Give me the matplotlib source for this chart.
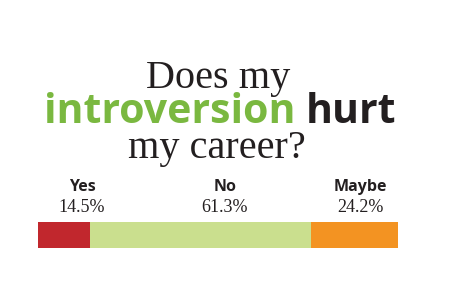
import matplotlib.pyplot as plt

# data
answers = ['Yes', 'No', 'Maybe']
shares = [14.5, 61.3, 24.2]
colors = ['#c1272d', '#cadf8e', '#f39322']
label_x = [82, 225, 360]   # label centres, px

W, H = 450, 285
fig = plt.figure(figsize=(W / 100, H / 100), dpi=100)
fig.patch.set_facecolor('white')

serif = ['Liberation Serif', 'DejaVu Serif']
sans = ['Open Sans', 'DejaVu Sans']

# title
fig.text(218 / W, 1 - 88 / H, 'Does my', family=serif, fontsize=29,
         ha='center', va='baseline', color='#231f20')
t1 = fig.text(44 / W, 1 - 123 / H, 'introversion ', family=sans, fontsize=29.5,
              fontweight='bold', ha='left', va='baseline', color='#7ab840')
fig.canvas.draw()
bb = t1.get_window_extent()
fig.text(bb.x1 / W, 1 - 123 / H, 'hurt', family=sans, fontsize=29.5,
         fontweight='bold', ha='left', va='baseline', color='#231f20')
fig.text(217 / W, 1 - 158 / H, 'my career?', family=serif, fontsize=29,
         ha='center', va='baseline', color='#231f20')

# labels
for a, s, x in zip(answers, shares, label_x):
    fig.text(x / W, 1 - 191 / H, a, family=sans, fontsize=11.5,
             fontweight='bold', ha='center', va='baseline', color='#231f20')
    fig.text(x / W, 1 - 212 / H, '{:.1f}%'.format(s), family=serif,
             fontsize=13, ha='center', va='baseline', color='#231f20')

# stacked bar
ax = fig.add_axes([38 / W, 1 - 248 / H, 360 / W, 26 / H])
left = 0
for s, c in zip(shares, colors):
    ax.barh(0, s, left=left, height=1, color=c, linewidth=0)
    left += s
ax.set_xlim(0, sum(shares))
ax.set_ylim(-0.5, 0.5)
ax.axis('off')

fig.savefig('out.png', dpi=100)
